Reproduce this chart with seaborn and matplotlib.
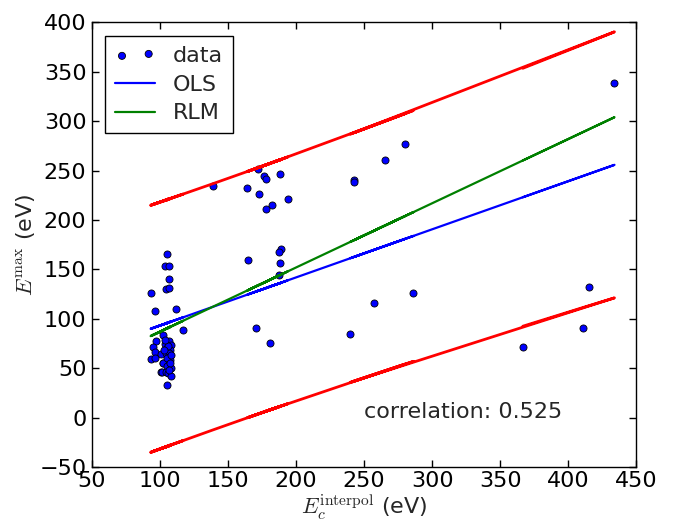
import numpy as np
import pandas as pd
import matplotlib
matplotlib.use("Agg")
import matplotlib.pyplot as plt
import seaborn as sns

# ---- data ----
x_data = [104.9, 103.7, 106.8, 106.6, 104.4, 106.4, 93.4, 96.6, 111.5, 116.9,
          102.4, 97.3, 94.6, 96.6, 100.7, 93.1, 96.6, 101.9, 100.9, 104.9,
          103.7, 106.4, 108.3, 104.9, 107.4, 104.4, 106.8, 106.4, 107.6, 102.4,
          105.4, 107.9, 101.2, 104.4, 105.6, 107.9, 106.0, 105.0, 107.0, 103.0,
          106.5, 104.0, 108.0,
          138.7, 172.3, 164.2, 176.2, 177.7, 188.5, 172.6, 193.9, 182.1, 177.7,
          188.7, 187.5, 164.5, 188.2, 187.5, 170.4, 181.1, 280.1, 265.4, 242.6,
          242.6, 286.3, 257.6, 239.9, 434.1, 415.4, 411.3, 366.7]
y_data = [165.5, 153.3, 153.3, 140.2, 130.5, 131.1, 126.4, 107.8, 110.0, 88.3,
          83.5, 77.4, 71.3, 66.0, 63.9, 58.9, 59.9, 54.9, 45.7, 32.9,
          74.8, 77.7, 73.1, 70.0, 68.0, 65.6, 65.0, 61.0, 58.2, 54.9,
          52.1, 50.1, 46.0, 46.4, 45.3, 42.0, 72.0, 60.0, 55.5, 68.0,
          48.0, 79.0, 63.0,
          234.3, 251.2, 232.6, 244.8, 241.1, 246.5, 226.5, 221.5, 214.8, 211.3,
          170.8, 167.8, 159.7, 156.0, 144.5, 90.3, 75.7, 277.1, 260.6, 240.1,
          238.1, 126.3, 115.6, 84.5, 338.6, 132.1, 90.9, 71.7]

ols_coef = [44.5, 0.4867]      # intercept, slope
rlm_coef = [21.95, 0.6497]
band_params = [124.6, 150.0, 694.0]   # half-width at centre, centre x, width scale
correlation = 0.525

FS = 16

# ---- style ----
sns.set_style("ticks")
plt.rcParams.update({
    "font.family": ["DejaVu Sans"],
    "mathtext.fontset": "cm",
    "mathtext.rm": "serif",
    "xtick.direction": "in",
    "ytick.direction": "in",
    "xtick.top": True,
    "ytick.right": True,
    "xtick.major.size": 5,
    "ytick.major.size": 5,
    "xtick.major.width": 1.0,
    "ytick.major.width": 1.0,
    "axes.linewidth": 1.0,
    "axes.edgecolor": "black",
    "xtick.color": "black",
    "ytick.color": "black",
    "xtick.labelsize": FS,
    "ytick.labelsize": FS,
    "xtick.major.pad": 3,
    "ytick.major.pad": 4,
})

df = pd.DataFrame({"x": x_data, "y": y_data})
xs = df["x"].to_numpy()
ols = ols_coef[0] + ols_coef[1] * xs
rlm = rlm_coef[0] + rlm_coef[1] * xs
hw = band_params[0] * np.sqrt(1 + ((xs - band_params[1]) / band_params[2]) ** 2)
lines = pd.DataFrame({"x": xs, "ols": ols, "rlm": rlm, "up": ols + hw, "lo": ols - hw})

fig, ax = plt.subplots(figsize=(6.84, 5.2), dpi=100)
fig.subplots_adjust(left=0.1345, right=0.930, top=0.957, bottom=0.102)

sns.scatterplot(data=df, x="x", y="y", color="#0000ff", edgecolor="black",
                linewidth=0.6, s=26, ax=ax, label="data", zorder=1)
sns.lineplot(data=lines, x="x", y="ols", color="#0000ff", lw=1.6, sort=False,
             estimator=None, ax=ax, label="OLS")
sns.lineplot(data=lines, x="x", y="rlm", color="#008000", lw=1.6, sort=False,
             estimator=None, ax=ax, label="RLM")
sns.lineplot(data=lines, x="x", y="up", color="#ff0000", lw=2.0, sort=False,
             estimator=None, ax=ax)
sns.lineplot(data=lines, x="x", y="lo", color="#ff0000", lw=2.0, sort=False,
             estimator=None, ax=ax)

ax.set_xlim(50, 450)
ax.set_ylim(-50, 400)
ax.set_xticks(np.arange(50, 451, 50))
ax.set_yticks(np.arange(-50, 401, 50))
ax.set_xlabel(r"$E_c^{\rm interpol}$ (eV)", fontsize=FS, labelpad=1)
ax.set_ylabel(r"$E^{\rm max}$ (eV)", fontsize=FS, labelpad=2)

ax.text(250, 0, f"correlation: {correlation}", fontsize=FS)

handles, labels = ax.get_legend_handles_labels()
order = [labels.index(l) for l in ["data", "OLS", "RLM"]]
leg = ax.legend([handles[i] for i in order], [labels[i] for i in order],
                loc="upper left", scatterpoints=2, fontsize=FS, fancybox=False,
                frameon=True, edgecolor="black", framealpha=1, handlelength=1.8,
                borderpad=0.45, labelspacing=0.4, borderaxespad=0.6)
leg.get_frame().set_linewidth(1.0)

fig.savefig("out.png", dpi=100, facecolor="white")
